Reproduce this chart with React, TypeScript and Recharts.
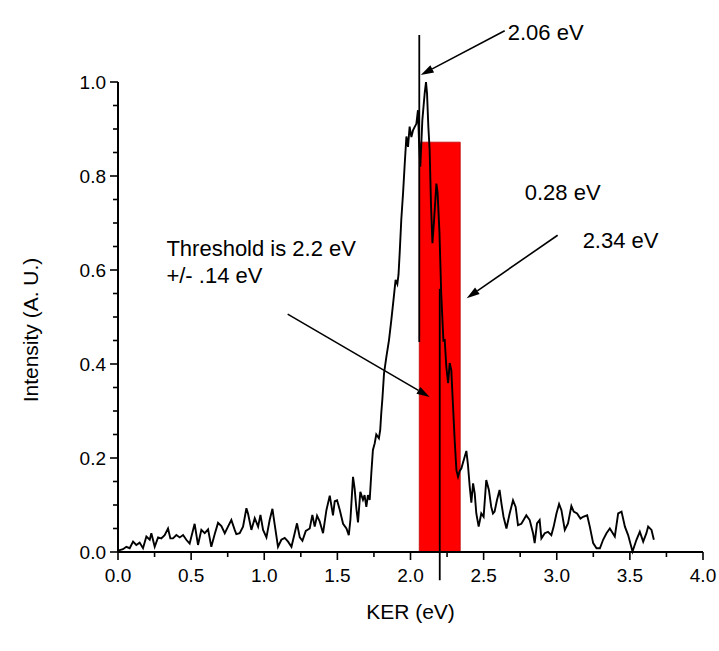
import React from "react"
import {
  ComposedChart,
  Line,
  XAxis,
  YAxis,
  Label,
  ReferenceArea,
  ReferenceLine,
  ReferenceDot,
} from "recharts"

// KER spectrum (eV, arbitrary units)
const ker = [
  0.0, 0.034, 0.057, 0.08, 0.103, 0.125, 0.148, 0.171, 0.194, 0.217, 0.228, 0.251, 0.274, 0.296, 0.319, 0.342,
  0.358, 0.376, 0.399, 0.422, 0.445, 0.467, 0.49, 0.524, 0.547, 0.57, 0.593, 0.616, 0.638, 0.661, 0.684, 0.707,
  0.73, 0.752, 0.775, 0.798, 0.809, 0.832, 0.855, 0.878, 0.889, 0.912, 0.935, 0.958, 0.974, 0.992, 1.015, 1.037,
  1.056, 1.072, 1.094, 1.117, 1.14, 1.163, 1.186, 1.208, 1.224, 1.243, 1.261, 1.284, 1.311, 1.329, 1.345, 1.361,
  1.379, 1.402, 1.425, 1.448, 1.47, 1.482, 1.498, 1.516, 1.539, 1.562, 1.578, 1.589, 1.607, 1.618, 1.63, 1.641,
  1.657, 1.675, 1.686, 1.698, 1.709, 1.721, 1.732, 1.743, 1.755, 1.766, 1.784, 1.793, 1.8, 1.808, 1.819, 1.835,
  1.853, 1.869, 1.885, 1.898, 1.91, 1.918, 1.926, 1.937, 1.949, 1.96, 1.972, 1.983, 1.994, 2.006, 2.017, 2.028,
  2.04, 2.051, 2.058, 2.067, 2.081, 2.097, 2.106, 2.113, 2.122, 2.131, 2.14, 2.15, 2.16, 2.177, 2.185, 2.198,
  2.21, 2.225, 2.234, 2.245, 2.257, 2.268, 2.279, 2.291, 2.302, 2.314, 2.325, 2.336, 2.348, 2.371, 2.382, 2.393,
  2.405, 2.416, 2.428, 2.439, 2.45, 2.466, 2.484, 2.5, 2.518, 2.536, 2.552, 2.564, 2.575, 2.591, 2.609, 2.622,
  2.636, 2.656, 2.678, 2.701, 2.719, 2.735, 2.758, 2.792, 2.815, 2.838, 2.849, 2.865, 2.883, 2.895, 2.918, 2.94,
  2.963, 2.979, 2.998, 3.016, 3.032, 3.055, 3.077, 3.1, 3.116, 3.139, 3.162, 3.18, 3.208, 3.226, 3.249, 3.272,
  3.295, 3.317, 3.34, 3.363, 3.397, 3.42, 3.443, 3.466, 3.488, 3.518, 3.545, 3.568, 3.591, 3.613, 3.625, 3.648,
  3.664,
]

const intensity = [
  0.003, 0.006, 0.011, 0.008, 0.022, 0.015, 0.02, 0.008, 0.033, 0.026, 0.04, 0.011, 0.031, 0.029, 0.036, 0.05,
  0.029, 0.029, 0.036, 0.031, 0.036, 0.026, 0.018, 0.06, 0.015, 0.047, 0.04, 0.048, 0.011, 0.038, 0.062, 0.055,
  0.04, 0.054, 0.068, 0.047, 0.038, 0.04, 0.054, 0.093, 0.082, 0.047, 0.072, 0.054, 0.079, 0.047, 0.031, 0.068,
  0.092, 0.057, 0.011, 0.026, 0.03, 0.022, 0.011, 0.04, 0.061, 0.031, 0.024, 0.045, 0.05, 0.079, 0.054, 0.077,
  0.065, 0.04, 0.089, 0.12, 0.078, 0.108, 0.11, 0.09, 0.06, 0.05, 0.036, 0.068, 0.16, 0.135, 0.092, 0.063,
  0.128, 0.111, 0.121, 0.096, 0.121, 0.111, 0.167, 0.217, 0.231, 0.25, 0.242, 0.26, 0.295, 0.327, 0.38, 0.415,
  0.451, 0.494, 0.54, 0.579, 0.57, 0.59, 0.636, 0.707, 0.763, 0.823, 0.884, 0.862, 0.905, 0.883, 0.897, 0.904,
  0.911, 0.94, 0.876, 0.82, 0.919, 0.976, 1.0, 0.976, 0.905, 0.855, 0.74, 0.657, 0.7, 0.784, 0.765, 0.68,
  0.55, 0.45, 0.451, 0.394, 0.359, 0.402, 0.387, 0.309, 0.238, 0.174, 0.16, 0.172, 0.178, 0.203, 0.215, 0.185,
  0.139, 0.105, 0.146, 0.125, 0.082, 0.054, 0.082, 0.075, 0.153, 0.132, 0.096, 0.082, 0.086, 0.11, 0.132, 0.103,
  0.075, 0.05, 0.082, 0.11, 0.096, 0.057, 0.06, 0.078, 0.068, 0.04, 0.019, 0.061, 0.068, 0.029, 0.04, 0.043,
  0.036, 0.054, 0.082, 0.102, 0.089, 0.047, 0.061, 0.098, 0.086, 0.082, 0.071, 0.075, 0.078, 0.054, 0.019, 0.008,
  0.008, 0.026, 0.04, 0.05, 0.033, 0.082, 0.086, 0.054, 0.036, 0.001, 0.026, 0.043, 0.022, 0.04, 0.054, 0.047,
  0.026,
]

const xMajorTicks = [0, 0.5, 1, 1.5, 2, 2.5, 3, 3.5, 4]
const xMinorTicks = [0.25, 0.75, 1.25, 1.75, 2.25, 2.75, 3.25, 3.75]
const yMajorTicks = [0, 0.2, 0.4, 0.6, 0.8, 1.0]
const yMinorTicks = [0.05, 0.1, 0.15, 0.25, 0.3, 0.35, 0.45, 0.5, 0.55, 0.65, 0.7, 0.75, 0.85, 0.9, 0.95]

// onset / end of the threshold window and its estimate
const windowStart = 2.06
const windowEnd = 2.34
const windowTop = 0.872
const thresholdValue = 2.2

// text notes, anchored at the left end of the baseline (data units)
const notes = [
  { text: "2.06 eV", x: 2.665, y: 1.09 },
  { text: "0.28 eV", x: 2.781, y: 0.749 },
  { text: "2.34 eV", x: 3.177, y: 0.646 },
  { text: "Threshold is 2.2 eV", x: 0.331, y: 0.63 },
  { text: "+/- .14 eV", x: 0.331, y: 0.573 },
]

// arrows: tail -> head (data units)
const arrows = [
  { x1: 2.644, y1: 1.109, x2: 2.07, y2: 1.015 },
  { x1: 3.006, y1: 0.674, x2: 2.384, y2: 0.54 },
  { x1: 1.16, y1: 0.506, x2: 2.131, y2: 0.33 },
]

const data = ker.map((k, i) => ({ ker: k, intensity: intensity[i] }))

const FONT = "'Liberation Sans', Arial, Helvetica, sans-serif"

const isMajor = (v: number, list: number[]) => list.some((m) => Math.abs(m - v) < 1e-6)

function XTick({ x, y, payload }: any) {
  const major = isMajor(payload.value, xMajorTicks)
  return (
    <g>
      <line x1={x} x2={x} y1={y} y2={y + (major ? 8 : 5)} stroke="#000" strokeWidth={1.6} />
      {major && (
        <text x={x} y={y + 30} textAnchor="middle" fontSize={19} fontFamily={FONT} fill="#000">
          {payload.value.toFixed(1)}
        </text>
      )}
    </g>
  )
}

function YTick({ x, y, payload }: any) {
  const major = isMajor(payload.value, yMajorTicks)
  return (
    <g>
      <line x1={x - (major ? 8 : 5)} x2={x} y1={y} y2={y} stroke="#000" strokeWidth={1.6} />
      {major && (
        <text x={x - 12} y={y + 6.8} textAnchor="end" fontSize={19} fontFamily={FONT} fill="#000">
          {payload.value.toFixed(1)}
        </text>
      )}
    </g>
  )
}

function Arrow({ x1, y1, x2, y2 }: any) {
  const a = Math.atan2(y2 - y1, x2 - x1)
  const len = 13
  const half = 4
  const bx = x2 - len * Math.cos(a)
  const by = y2 - len * Math.sin(a)
  const px = -Math.sin(a) * half
  const py = Math.cos(a) * half
  return (
    <g>
      <line x1={x1} y1={y1} x2={bx} y2={by} stroke="#000" strokeWidth={1.6} />
      <polygon points={`${x2},${y2} ${bx + px},${by + py} ${bx - px},${by - py}`} fill="#000" />
    </g>
  )
}

export default function App() {
  return (
    <div style={{ position: "absolute", left: 0, top: 0, width: 719, height: 651, background: "#fff" }}>
      <ComposedChart
        width={719}
        height={651}
        data={data}
        margin={{ top: 82, right: 16, bottom: 0, left: 0 }}
        style={{ fontFamily: FONT }}
      >
        <XAxis
          type="number"
          dataKey="ker"
          domain={[0, 4]}
          ticks={[...xMajorTicks, ...xMinorTicks].sort((a, b) => a - b)}
          interval={0}
          tick={<XTick />}
          tickLine={false}
          tickSize={0}
          tickMargin={0}
          height={99}
          axisLine={{ stroke: "#000", strokeWidth: 2 }}
        >
          <Label
            value="KER (eV)"
            position="insideBottom"
            offset={32}
            style={{ fontSize: 21, fill: "#000", fontFamily: FONT }}
          />
        </XAxis>
        <YAxis
          type="number"
          domain={[0, 1]}
          ticks={[...yMajorTicks, ...yMinorTicks].sort((a, b) => a - b)}
          interval={0}
          tick={<YTick />}
          tickLine={false}
          tickSize={0}
          tickMargin={0}
          width={118}
          axisLine={{ stroke: "#000", strokeWidth: 2 }}
        >
          <Label
            content={({ viewBox }: any) => {
              const cx = viewBox.x + 38
              const cy = viewBox.y + viewBox.height / 2 + 13
              return (
                <text
                  x={cx}
                  y={cy}
                  transform={`rotate(-90, ${cx}, ${cy})`}
                  textAnchor="middle"
                  fontSize={21}
                  fontFamily={FONT}
                  fill="#000"
                >
                  Intensity (A. U.)
                </text>
              )
            }}
          />
        </YAxis>
        <ReferenceArea
          x1={windowStart}
          x2={windowEnd}
          y1={0}
          y2={windowTop}
          fill="#ff0000"
          fillOpacity={1}
          stroke="#c00000"
          strokeWidth={0.8}
          ifOverflow="visible"
        />
        <Line
          type="linear"
          dataKey="intensity"
          stroke="#000"
          strokeWidth={1.9}
          dot={false}
          isAnimationActive={false}
        />
        <ReferenceLine
          segment={[
            { x: windowStart, y: 1.1 },
            { x: windowStart, y: 0.447 },
          ]}
          stroke="#000"
          strokeWidth={1.8}
          ifOverflow="visible"
        />
        <ReferenceLine
          segment={[
            { x: thresholdValue, y: 0.56 },
            { x: thresholdValue, y: -0.06 },
          ]}
          stroke="#000"
          strokeWidth={1.8}
          ifOverflow="visible"
        />
        {arrows.map((a, i) => (
          <ReferenceLine
            key={`arrow-${i}`}
            segment={[
              { x: a.x1, y: a.y1 },
              { x: a.x2, y: a.y2 },
            ]}
            ifOverflow="visible"
            shape={(p: any) => <Arrow {...p} />}
          />
        ))}
        {notes.map((n, i) => (
          <ReferenceDot
            key={`note-${i}`}
            x={n.x}
            y={n.y}
            r={0}
            ifOverflow="visible"
            shape={(p: any) => (
              <text x={p.cx} y={p.cy} fontSize={22} fontFamily={FONT} fill="#000">
                {n.text}
              </text>
            )}
          />
        ))}
      </ComposedChart>
    </div>
  )
}
